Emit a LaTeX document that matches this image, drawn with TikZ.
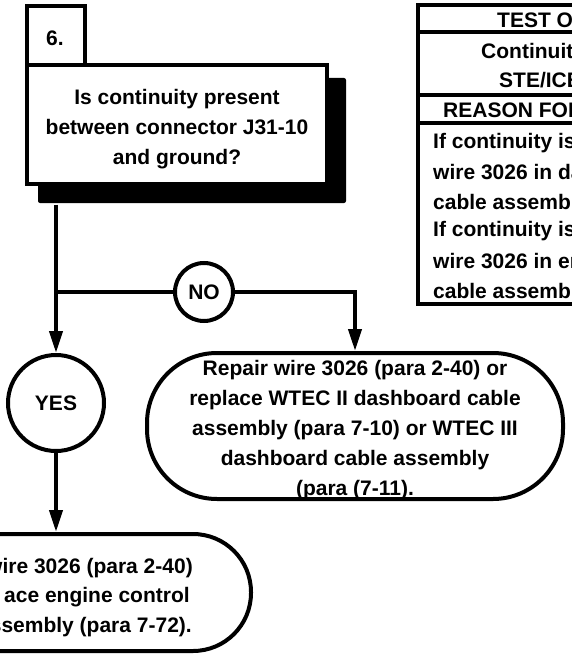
\documentclass[tikz,border=0pt]{standalone}
\usepackage{fontspec}
\setmainfont{Liberation Sans}
\usetikzlibrary{arrows.meta}
\begin{document}
\begin{tikzpicture}[x=1pt,y=-1pt,
  every node/.style={font=\fontsize{21}{30}\selectfont\bfseries},
  box/.style={draw,line width=4pt,fill=white,inner sep=0pt},
  cir/.style={draw,circle,line width=4pt,fill=white,inner sep=0pt},
  conn/.style={line width=4pt},
  arr/.style={conn,-{Triangle[length=22pt,width=13pt]}},
  txt/.style={inner sep=0pt},
  tline/.style={line width=4pt}]
\useasboundingbox (0,0) rectangle (572,655);
\clip (0,0) rectangle (572,655);
% step number box
\node[box, minimum width=58pt, minimum height=59pt] (n6) at (56,35.5) {};
\node[txt] (n6t) at (55,38.5) {6.};
% shadow and question box
\fill[rounded corners=2pt] (38,78) rectangle (346,203);
\node[box, minimum width=300pt, minimum height=119pt] (q) at (177,124.5) {};
\node[txt, align=center] (qt) at (177,129) {Is continuity present\\between connector J31-10\\and ground?};
% table
\draw[tline] (418,5) rectangle (640,304);
\draw[tline] (418,32) -- (640,32);
\draw[tline] (418,95) -- (640,95);
\draw[tline] (418,123) -- (640,123);
\node[txt, anchor=west] (t1) at (497,20) {TEST OF};
\node[txt, anchor=west] (t2) at (481,51) {Continuit};
\node[txt, anchor=west] (t3) at (499,80) {STE/ICE};
\node[txt, anchor=west] (t4) at (443,110) {REASON FOR};
\node[txt, anchor=west] (b1) at (433,143) {If continuity is};
\node[txt, anchor=west] (b2) at (433,172.5) {wire 3026 in da};
\node[txt, anchor=west] (b3) at (433,202) {cable assembl};
\node[txt, anchor=west] (b4) at (433,231.5) {If continuity is};
\node[txt, anchor=west] (b5) at (433,261) {wire 3026 in en};
\node[txt, anchor=west] (b6) at (433,290.5) {cable assembl};
% decision circles
\node[cir, minimum size=58pt] (no) at (204,292) {NO};
\node[cir, minimum size=96pt] (yes) at (56,403) {YES};
% result boxes
\node[box, rounded corners=70pt, minimum width=416pt, minimum height=146pt] (r) at (355,426) {};
\node[txt, align=center] (rt) at (355,430) {Repair wire 3026 (para 2-40) or\\replace WTEC II dashboard cable\\assembly (para 7-10) or WTEC III\\dashboard cable assembly\\(para (7-11).};
\node[box, rounded corners=58pt, minimum width=451pt, minimum height=117pt] (bb) at (25.5,592.5) {};
\node[txt, anchor=east] (l1) at (193,568) {wire 3026 (para 2-40)};
\node[txt, anchor=west] (l2) at (4,597) {ace engine control};
\node[txt, anchor=east] (l3) at (192,627) {ssembly (para 7-72).};
% connectors
\coordinate (j) at (yes |- no);
\coordinate (nr) at (r.north |- no);
\draw[arr] (yes |- q.south) ++(0,18.5) -- (yes.north);
\draw[conn] (j) -- (no.west);
\draw[conn] (no.east) -- (nr) -- ++(0,2);
\draw[arr] (nr) -- (r.north);
\draw[arr] (yes.south) -- (bb.north -| yes);
\end{tikzpicture}
\end{document}
